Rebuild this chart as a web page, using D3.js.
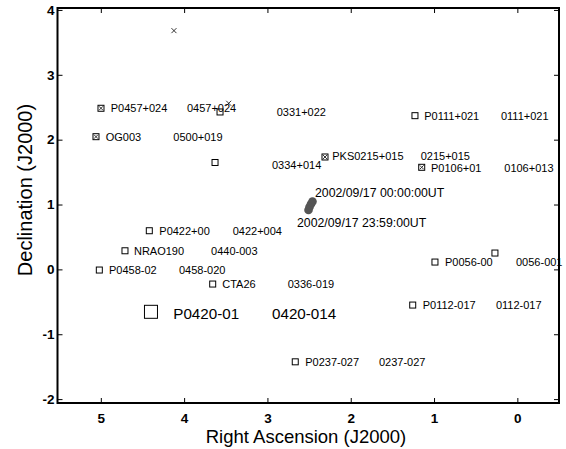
<!DOCTYPE html>
<html>
<head>
<meta charset="utf-8">
<title>Source positions</title>
<script src="https://d3js.org/d3.v7.min.js"></script>
<style>
  body { margin: 0; background: #fff; }
  text { font-family: Arial, "Liberation Sans", Helvetica, sans-serif; fill: #000; }
</style>
</head>
<body>
<script>
// [RA (h), Dec (deg)]
var openSquares = [[3.569, 2.427], [3.629, 1.648], [1.229, 2.370], [4.418, 0.596],
                   [4.710, 0.287], [5.018, -0.010], [3.657, -0.226], [0.269, 0.252],
                   [0.989, 0.113], [1.256, -0.550], [2.666, -1.425]];
var crossedSquares = [[4.998, 2.484], [5.058, 2.046], [2.309, 1.733], [1.148, 1.574]];
var xMarks = [[4.122, 3.681], [3.465, 2.561]];
var bigSquare = [[4.398, -0.654]];
var track = [[2.459, 1.046], [2.477, 1.008], [2.495, 0.961], [2.507, 0.915]];

// labels: [text, RA at left edge, Dec]
var sourceLabels = [
  ["P0457+024", 4.881, 2.484], ["0457+024", 3.966, 2.484], ["0331+022", 2.889, 2.419],
  ["OG003", 4.941, 2.046], ["0500+019", 4.130, 2.046],
  ["P0111+021", 1.117, 2.370], ["0111+021", 0.197, 2.365],
  ["0334+014", 2.945, 1.609], ["PKS0215+015", 2.222, 1.743], ["0215+015", 1.160, 1.743],
  ["P0106+01", 1.037, 1.567], ["0106+013", 0.157, 1.567],
  ["P0422+00", 4.298, 0.591], ["0422+004", 3.417, 0.591],
  ["NRAO190", 4.602, 0.287], ["0440-003", 3.677, 0.287],
  ["P0458-02", 4.902, -0.010], ["0458-020", 4.062, -0.010],
  ["CTA26", 3.542, -0.226], ["0336-019", 2.757, -0.226],
  ["P0056-00", 0.869, 0.108], ["0056-001", 0.016, 0.108],
  ["P0112-017", 1.136, -0.555], ["0112-017", 0.257, -0.555],
  ["P0237-027", 2.546, -1.434], ["0237-027", 1.661, -1.434]
];
var timeLabels = [["2002/09/17 00:00:00UT", 2.429, 1.188], ["2002/09/17 23:59:00UT", 2.645, 0.725]];
var bigLabels = [["P0420-01", 4.130, -0.678], ["0420-014", 2.945, -0.678]];

var raTicks = [5, 4, 3, 2, 1, 0];
var decTicks = [-2, -1, 0, 1, 2, 3, 4];

var W = 566, H = 449;
var x = d3.scaleLinear().domain([5.52, -0.5]).range([57.5, 559]);
var y = d3.scaleLinear().domain([4.03, -2.06]).range([8, 403]);

var svg = d3.select("body").append("svg").attr("width", W).attr("height", H);

// plain hyphen for negatives, like the original
var fmt = function(d) { return String(d); };

// axes, ticks pointing inward
svg.append("g").attr("transform", "translate(0,403)")
  .call(d3.axisBottom(x).tickValues(raTicks).tickFormat(fmt).tickSizeInner(-5).tickSizeOuter(0).tickPadding(10));
svg.append("g").attr("transform", "translate(0,8)")
  .call(d3.axisTop(x).tickValues(raTicks).tickFormat("").tickSizeInner(-5).tickSizeOuter(0));
svg.append("g").attr("transform", "translate(57.5,0)")
  .call(d3.axisLeft(y).tickValues(decTicks).tickFormat(fmt).tickSizeInner(-5).tickSizeOuter(0).tickPadding(3));
svg.append("g").attr("transform", "translate(559,0)")
  .call(d3.axisRight(y).tickValues(decTicks).tickFormat("").tickSizeInner(-5).tickSizeOuter(0));

svg.selectAll(".domain").remove();
svg.selectAll(".tick line").attr("stroke", "#000").attr("stroke-width", 1);
svg.selectAll(".tick text").style("font-size", "13.5px").style("font-weight", "bold")
  .style("font-family", "Arial, 'Liberation Sans', sans-serif");

// markers
var g = svg.append("g");

g.selectAll(".osq").data(openSquares).enter().append("rect")
  .attr("x", function(d) { return x(d[0]) - 3; })
  .attr("y", function(d) { return y(d[1]) - 3; })
  .attr("width", 6).attr("height", 6)
  .attr("fill", "none").attr("stroke", "#000").attr("stroke-width", 1);

var cs = g.selectAll(".csq").data(crossedSquares).enter().append("g")
  .attr("transform", function(d) { return "translate(" + x(d[0]) + "," + y(d[1]) + ")"; });
cs.append("rect").attr("x", -3).attr("y", -3).attr("width", 6).attr("height", 6)
  .attr("fill", "none").attr("stroke", "#000").attr("stroke-width", 1);
cs.append("path").attr("d", "M-2,-2L2,2M2,-2L-2,2").attr("stroke", "#333").attr("stroke-width", 1);

g.selectAll(".xm").data(xMarks).enter().append("path")
  .attr("transform", function(d) { return "translate(" + x(d[0]) + "," + y(d[1]) + ")"; })
  .attr("d", "M-2.5,-2.5L2.5,2.5M2.5,-2.5L-2.5,2.5")
  .attr("stroke", "#000").attr("stroke-width", 0.8);

g.selectAll(".bsq").data(bigSquare).enter().append("rect")
  .attr("x", function(d) { return x(d[0]) - 6.5; })
  .attr("y", function(d) { return y(d[1]) - 6.5; })
  .attr("width", 13).attr("height", 13)
  .attr("fill", "none").attr("stroke", "#000").attr("stroke-width", 1);

g.selectAll(".trk").data(track).enter().append("circle")
  .attr("cx", function(d) { return x(d[0]); })
  .attr("cy", function(d) { return y(d[1]); })
  .attr("r", 4.3).attr("fill", "#555");

// labels
function addLabels(data, size) {
  g.selectAll(null).data(data).enter().append("text")
    .attr("x", function(d) { return x(d[1]); })
    .attr("y", function(d) { return y(d[2]); })
    .attr("dy", "0.35em")
    .style("font-size", size)
    .text(function(d) { return d[0]; });
}
addLabels(sourceLabels, "11px");
addLabels(timeLabels, "12.3px");
addLabels(bigLabels, "15.2px");

// frame
svg.append("rect").attr("x", 57.5).attr("y", 8).attr("width", 501.5).attr("height", 395)
  .attr("fill", "none").attr("stroke", "#000").attr("stroke-width", 2);

// axis titles
svg.append("text").attr("x", 306).attr("y", 443).attr("text-anchor", "middle")
  .style("font-size", "18.5px").text("Right Ascension (J2000)");
svg.append("text").attr("transform", "translate(32,190) rotate(-90)").attr("text-anchor", "middle")
  .style("font-size", "20px").text("Declination (J2000)");
</script>
</body>
</html>
